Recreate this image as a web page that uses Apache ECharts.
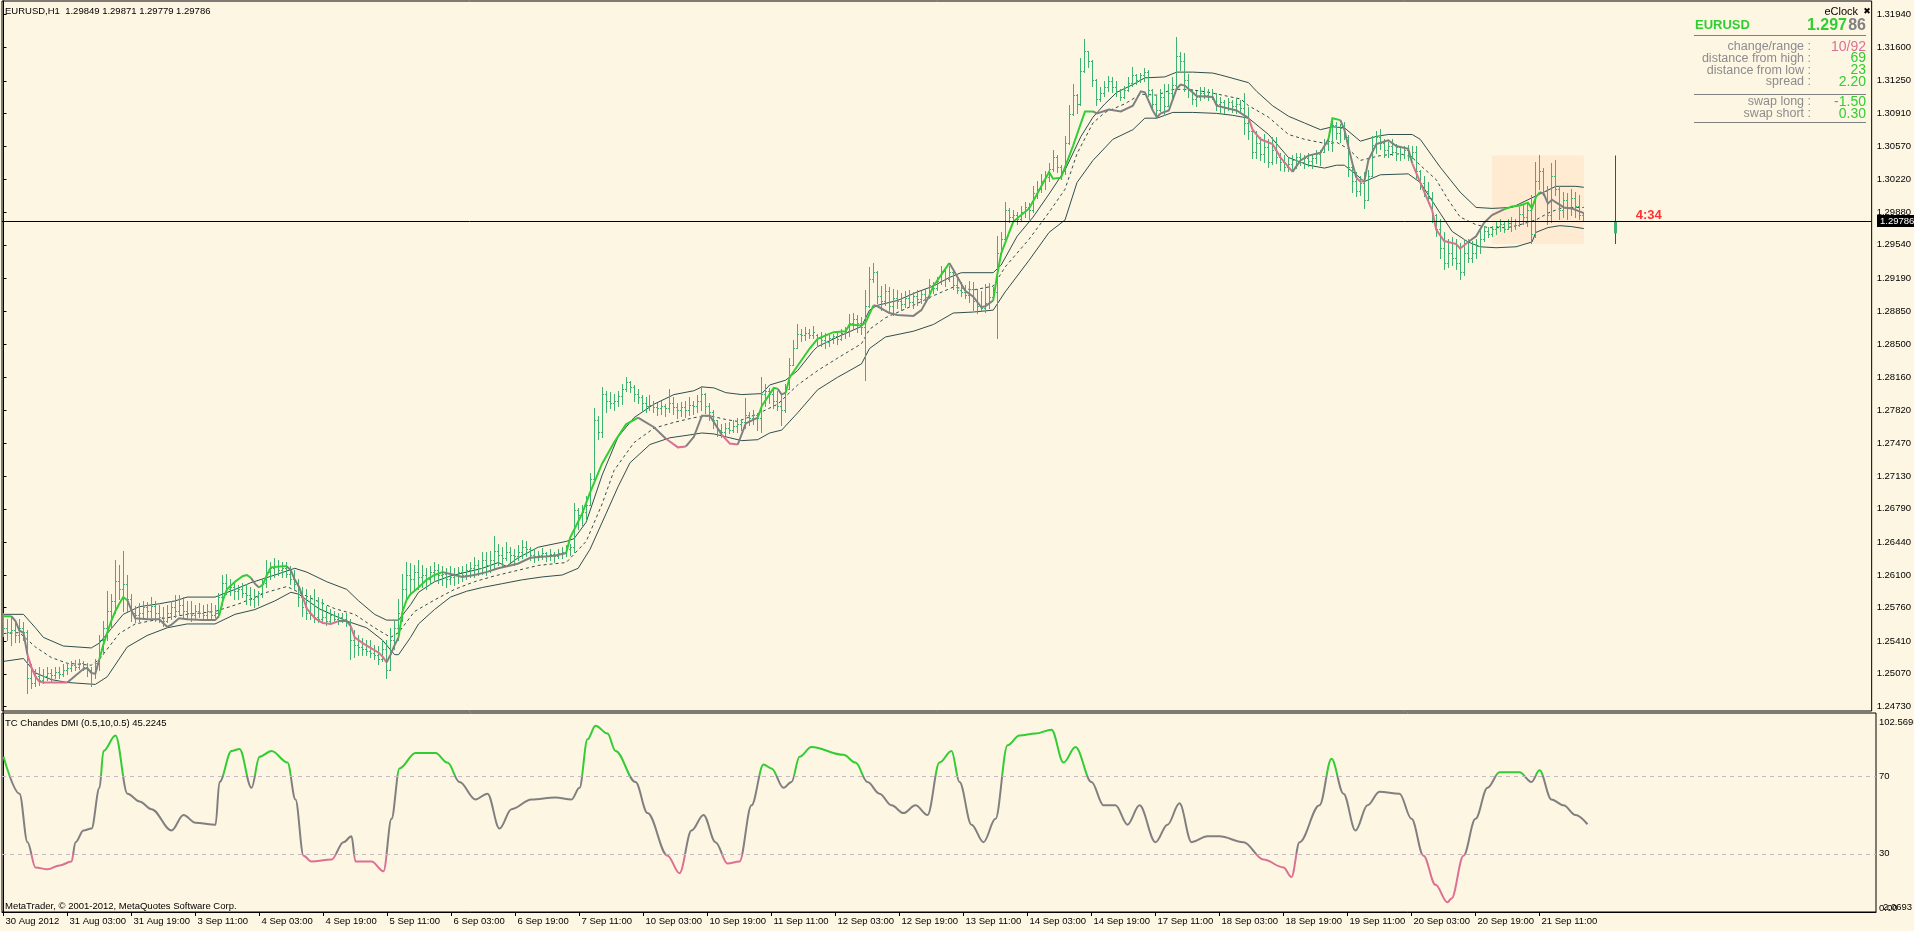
<!DOCTYPE html>
<html>
<head>
<meta charset="utf-8">
<title>EURUSD,H1</title>
<script src="https://cdn.jsdelivr.net/npm/echarts@6.0.0/dist/echarts.min.js"></script>
<style>
  html, body { margin: 0; padding: 0; background: #fdf6e3; }
  #chart { width: 1914px; height: 931px; }
</style>
</head>
<body>
<div id="chart"></div>
<script>
// EURUSD H1, 30 Aug 11:00 .. 21 Sep 23:00 2012 (bar index 0..396)

const tickBars = [0,16,32,48,64,80,96,112,128,144,160,176,192,208,224,240,256,272,288,304,320,336,352,368,384];
const tickLabels = ['30 Aug 2012','31 Aug 03:00','31 Aug 19:00','3 Sep 11:00','4 Sep 03:00','4 Sep 19:00',
  '5 Sep 11:00','6 Sep 03:00','6 Sep 19:00','7 Sep 11:00','10 Sep 03:00','10 Sep 19:00','11 Sep 11:00',
  '12 Sep 03:00','12 Sep 19:00','13 Sep 11:00','14 Sep 03:00','14 Sep 19:00','17 Sep 11:00','18 Sep 03:00',
  '18 Sep 19:00','19 Sep 11:00','20 Sep 03:00','20 Sep 19:00','21 Sep 11:00'];
const priceTicks = [1.24730,1.25070,1.25410,1.25760,1.26100,1.26440,1.26790,1.27130,1.27470,1.27820,1.28160,
  1.28500,1.28850,1.29190,1.29540,1.29880,1.30220,1.30570,1.30910,1.31250,1.31600,1.31940];

const opens = [
1.2562,1.2554,1.2550,1.2552,1.2547,1.2554,1.2550,1.2502,1.2497,1.2504,
1.2500,1.2504,1.2507,1.2505,1.2508,1.2506,1.2511,1.2513,1.2516,1.2514,
1.2518,1.2514,1.2510,1.2507,1.2518,1.2542,1.2554,1.2572,1.2582,1.2603,
1.2595,1.2600,1.2585,1.2570,1.2568,1.2570,1.2576,1.2572,1.2577,1.2570,
1.2566,1.2562,1.2570,1.2576,1.2572,1.2578,1.2572,1.2570,1.2568,1.2572,
1.2570,1.2568,1.2572,1.2568,1.2570,1.2587,1.2601,1.2595,1.2597,1.2593,
1.2595,1.2591,1.2589,1.2584,1.2587,1.2591,1.2601,1.2613,1.2617,1.2619,
1.2615,1.2617,1.2611,1.2605,1.2600,1.2587,1.2576,1.2570,1.2568,1.2566,
1.2564,1.2566,1.2562,1.2568,1.2564,1.2566,1.2564,1.2560,1.2542,1.2537,
1.2534,1.2532,1.2530,1.2528,1.2526,1.2522,1.2532,1.2510,1.2542,1.2554,
1.2570,1.2595,1.2610,1.2605,1.2613,1.2607,1.2610,1.2605,1.2613,1.2615,
1.2609,1.2611,1.2605,1.2607,1.2610,1.2613,1.2610,1.2615,1.2617,1.2620,
1.2617,1.2625,1.2620,1.2625,1.2635,1.2630,1.2627,1.2633,1.2630,1.2629,
1.2633,1.2639,1.2637,1.2630,1.2629,1.2630,1.2632,1.2629,1.2631,1.2629,
1.2632,1.2633,1.2637,1.2639,1.2677,1.2672,1.2675,1.2682,1.2709,1.2771,
1.2759,1.2798,1.2791,1.2789,1.2791,1.2796,1.2803,1.2811,1.2805,1.2798,
1.2795,1.2789,1.2786,1.2787,1.2785,1.2783,1.2786,1.2783,1.2789,1.2785,
1.2781,1.2785,1.2781,1.2787,1.2786,1.2791,1.2798,1.2786,1.2779,1.2771,
1.2761,1.2759,1.2763,1.2761,1.2765,1.2767,1.2769,1.2776,1.2773,1.2776,
1.2773,1.2798,1.2801,1.2798,1.2791,1.2786,1.2781,1.2803,1.2828,1.2846,
1.2861,1.2860,1.2862,1.2860,1.2860,1.2856,1.2854,1.2852,1.2856,1.2858,
1.2855,1.2862,1.2864,1.2872,1.2876,1.2872,1.2868,1.2890,1.2918,1.2925,
1.2900,1.2895,1.2905,1.2890,1.2898,1.2895,1.2892,1.2898,1.2894,1.2900,
1.2897,1.2902,1.2899,1.2912,1.2909,1.2916,1.2926,1.2918,1.2925,1.2912,
1.2906,1.2904,1.2901,1.2908,1.2895,1.2890,1.2888,1.2893,1.2899,1.2904,
1.2945,1.2960,1.2990,1.2982,1.2985,1.2980,1.2988,1.2993,1.2990,1.3008,
1.3012,1.3020,1.3024,1.3033,1.3045,1.3035,1.3030,1.3060,1.3090,1.3110,
1.3100,1.3135,1.3155,1.3145,1.3125,1.3105,1.3112,1.3118,1.3124,1.3118,
1.3114,1.3108,1.3115,1.3122,1.3130,1.3125,1.3130,1.3134,1.3115,1.3100,
1.3094,1.3108,1.3098,1.3112,1.3120,1.3150,1.3145,1.3125,1.3115,1.3105,
1.3108,1.3112,1.3110,1.3108,1.3112,1.3100,1.3102,1.3096,1.3102,1.3098,
1.3100,1.3096,1.3080,1.3072,1.3050,1.3060,1.3048,1.3055,1.3040,1.3052,
1.3045,1.3040,1.3035,1.3038,1.3042,1.3045,1.3040,1.3044,1.3041,1.3044,
1.3048,1.3050,1.3060,1.3062,1.3078,1.3070,1.3075,1.3066,1.3035,1.3020,
1.3010,1.3018,1.3000,1.3025,1.3058,1.3066,1.3060,1.3052,1.3056,1.3050,
1.3055,1.3048,1.3052,1.3046,1.3050,1.3030,1.3018,1.3010,1.3002,1.2985,
1.2970,1.2950,1.2935,1.2945,1.2940,1.2935,1.2925,1.2945,1.2940,1.2945,
1.2952,1.2960,1.2968,1.2965,1.2970,1.2973,1.2975,1.2970,1.2976,1.2978,
1.2974,1.2986,1.2982,1.2990,1.2965,1.3020,1.3030,1.3010,1.2985,1.3025,
1.3012,1.2990,1.3000,1.2992,1.3002,1.2994,1.29849
];
const highs = [
1.2570,1.2564,1.2567,1.2562,1.2564,1.2560,1.2552,1.2517,1.2512,1.2514,
1.2512,1.2514,1.2512,1.2514,1.2514,1.2517,1.2518,1.2520,1.2521,1.2522,
1.2520,1.2518,1.2514,1.2522,1.2547,1.2562,1.2593,1.2590,1.2625,1.2620,
1.2635,1.2610,1.2590,1.2577,1.2580,1.2582,1.2581,1.2587,1.2582,1.2578,
1.2576,1.2578,1.2582,1.2589,1.2589,1.2587,1.2582,1.2582,1.2578,1.2580,
1.2578,1.2579,1.2580,1.2578,1.2591,1.2609,1.2611,1.2605,1.2601,1.2599,
1.2601,1.2600,1.2597,1.2595,1.2593,1.2605,1.2625,1.2623,1.2627,1.2625,
1.2623,1.2623,1.2619,1.2615,1.2605,1.2597,1.2595,1.2589,1.2595,1.2587,
1.2584,1.2577,1.2574,1.2572,1.2570,1.2570,1.2570,1.2564,1.2552,1.2547,
1.2544,1.2542,1.2542,1.2537,1.2536,1.2542,1.2542,1.2554,1.2562,1.2584,
1.2611,1.2623,1.2622,1.2620,1.2625,1.2620,1.2617,1.2619,1.2623,1.2621,
1.2619,1.2617,1.2619,1.2617,1.2618,1.2619,1.2621,1.2623,1.2628,1.2625,
1.2633,1.2633,1.2635,1.2650,1.2642,1.2639,1.2644,1.2639,1.2637,1.2641,
1.2646,1.2645,1.2639,1.2637,1.2634,1.2638,1.2633,1.2637,1.2633,1.2637,
1.2639,1.2641,1.2642,1.2684,1.2679,1.2682,1.2692,1.2716,1.2784,1.2775,
1.2805,1.2801,1.2800,1.2798,1.2801,1.2808,1.2816,1.2812,1.2807,1.2803,
1.2797,1.2795,1.2797,1.2791,1.2789,1.2791,1.2788,1.2803,1.2795,1.2789,
1.2790,1.2791,1.2795,1.2791,1.2797,1.2806,1.2799,1.2789,1.2781,1.2771,
1.2767,1.2768,1.2769,1.2771,1.2773,1.2772,1.2794,1.2779,1.2781,1.2778,
1.2816,1.2808,1.2804,1.2803,1.2801,1.2798,1.2809,1.2836,1.2854,1.2871,
1.2866,1.2868,1.2866,1.2869,1.2861,1.2863,1.2862,1.2860,1.2861,1.2862,
1.2866,1.2868,1.2881,1.2882,1.2880,1.2878,1.2906,1.2930,1.2935,1.2926,
1.2911,1.2913,1.2910,1.2908,1.2906,1.2903,1.2905,1.2906,1.2904,1.2906,
1.2905,1.2907,1.2918,1.2915,1.2920,1.2931,1.2928,1.2931,1.2926,1.2918,
1.2915,1.2912,1.2916,1.2915,1.2908,1.2905,1.2913,1.2914,1.2910,1.2963,
1.2967,1.2998,1.2992,1.2990,1.2988,1.2994,1.2998,1.2997,1.3015,1.3020,
1.3027,1.3030,1.3039,1.3052,1.3047,1.3037,1.3067,1.3099,1.3121,1.3111,
1.3148,1.3168,1.3156,1.3146,1.3126,1.3118,1.3124,1.3129,1.3128,1.3124,
1.3116,1.3119,1.3128,1.3139,1.3132,1.3133,1.3138,1.3136,1.3116,1.3109,
1.3116,1.3121,1.3121,1.3128,1.3170,1.3154,1.3153,1.3131,1.3116,1.3114,
1.3118,1.3118,1.3116,1.3116,1.3112,1.3108,1.3104,1.3107,1.3104,1.3106,
1.3104,1.3112,1.3097,1.3074,1.3072,1.3066,1.3069,1.3064,1.3066,1.3066,
1.3049,1.3047,1.3044,1.3047,1.3049,1.3049,1.3047,1.3049,1.3047,1.3052,
1.3052,1.3064,1.3066,1.3084,1.3081,1.3079,1.3082,1.3068,1.3039,1.3029,
1.3025,1.3029,1.3032,1.3067,1.3072,1.3074,1.3064,1.3061,1.3064,1.3059,
1.3057,1.3056,1.3058,1.3057,1.3057,1.3032,1.3025,1.3019,1.3009,1.2986,
1.2980,1.2967,1.2960,1.2962,1.2960,1.2955,1.2960,1.2960,1.2957,1.2960,
1.2970,1.2973,1.2972,1.2973,1.2978,1.2980,1.2978,1.2980,1.2982,1.2980,
1.2993,1.2995,1.2997,1.3005,1.3040,1.3047,1.3034,1.3015,1.3039,1.3042,
1.3015,1.3009,1.3007,1.3012,1.3009,1.3005,1.29871
];
const lows = [
1.2546,1.2542,1.2537,1.2540,1.2540,1.2542,1.2487,1.2492,1.2494,1.2495,
1.2497,1.2500,1.2499,1.2502,1.2502,1.2504,1.2506,1.2509,1.2510,1.2512,
1.2510,1.2504,1.2494,1.2502,1.2510,1.2527,1.2542,1.2554,1.2570,1.2585,
1.2572,1.2572,1.2562,1.2560,1.2562,1.2565,1.2564,1.2566,1.2562,1.2560,
1.2556,1.2560,1.2564,1.2566,1.2568,1.2566,1.2564,1.2562,1.2564,1.2566,
1.2564,1.2565,1.2564,1.2566,1.2566,1.2578,1.2590,1.2589,1.2584,1.2584,
1.2587,1.2579,1.2578,1.2576,1.2578,1.2587,1.2597,1.2605,1.2607,1.2610,
1.2607,1.2607,1.2600,1.2595,1.2577,1.2567,1.2564,1.2564,1.2560,1.2560,
1.2560,1.2557,1.2560,1.2560,1.2558,1.2560,1.2556,1.2522,1.2524,1.2526,
1.2526,1.2526,1.2524,1.2522,1.2517,1.2520,1.2502,1.2510,1.2532,1.2542,
1.2562,1.2584,1.2590,1.2593,1.2595,1.2597,1.2595,1.2600,1.2603,1.2601,
1.2599,1.2597,1.2600,1.2599,1.2601,1.2603,1.2605,1.2607,1.2607,1.2609,
1.2611,1.2610,1.2613,1.2617,1.2620,1.2619,1.2625,1.2623,1.2620,1.2625,
1.2627,1.2629,1.2625,1.2623,1.2625,1.2626,1.2624,1.2625,1.2623,1.2627,
1.2627,1.2629,1.2630,1.2633,1.2657,1.2662,1.2667,1.2682,1.2709,1.2751,
1.2753,1.2779,1.2783,1.2781,1.2786,1.2788,1.2801,1.2800,1.2791,1.2789,
1.2781,1.2779,1.2781,1.2779,1.2776,1.2777,1.2775,1.2779,1.2777,1.2773,
1.2775,1.2774,1.2776,1.2777,1.2779,1.2781,1.2778,1.2771,1.2763,1.2754,
1.2753,1.2755,1.2757,1.2758,1.2759,1.2761,1.2763,1.2766,1.2767,1.2761,
1.2758,1.2786,1.2789,1.2783,1.2781,1.2766,1.2779,1.2803,1.2828,1.2846,
1.2853,1.2854,1.2856,1.2856,1.2848,1.2848,1.2846,1.2848,1.2851,1.2850,
1.2854,1.2856,1.2859,1.2866,1.2863,1.2861,1.2813,1.2889,1.2915,1.2893,
1.2886,1.2891,1.2883,1.2880,1.2888,1.2886,1.2889,1.2890,1.2888,1.2891,
1.2893,1.2893,1.2898,1.2903,1.2906,1.2913,1.2911,1.2916,1.2908,1.2903,
1.2900,1.2898,1.2894,1.2886,1.2883,1.2886,1.2884,1.2888,1.2898,1.2856,
1.2945,1.2960,1.2977,1.2978,1.2975,1.2978,1.2982,1.2980,1.2988,1.3002,
1.3009,1.3012,1.3020,1.3030,1.3029,1.3022,1.3027,1.3059,1.3089,1.3091,
1.3099,1.3134,1.3139,1.3119,1.3099,1.3103,1.3109,1.3114,1.3113,1.3109,
1.3104,1.3106,1.3114,1.3119,1.3121,1.3123,1.3124,1.3109,1.3094,1.3089,
1.3093,1.3089,1.3098,1.3103,1.3116,1.3136,1.3114,1.3108,1.3100,1.3098,
1.3104,1.3106,1.3104,1.3105,1.3094,1.3092,1.3091,1.3094,1.3092,1.3091,
1.3091,1.3069,1.3064,1.3044,1.3044,1.3042,1.3040,1.3035,1.3038,1.3039,
1.3032,1.3030,1.3030,1.3032,1.3034,1.3037,1.3034,1.3036,1.3034,1.3039,
1.3037,1.3050,1.3052,1.3051,1.3064,1.3061,1.3064,1.3025,1.3009,1.3004,
1.3005,1.2992,1.3000,1.3025,1.3049,1.3053,1.3045,1.3045,1.3047,1.3042,
1.3042,1.3044,1.3042,1.3044,1.3022,1.3012,1.3004,1.2997,1.2977,1.2963,
1.2940,1.2928,1.2930,1.2933,1.2928,1.2918,1.2922,1.2936,1.2936,1.2940,
1.2945,1.2958,1.2962,1.2963,1.2965,1.2968,1.2967,1.2970,1.2968,1.2970,
1.2973,1.2975,1.2973,1.2955,1.2962,1.3012,1.3005,1.2975,1.2977,1.3005,
1.2980,1.2982,1.2980,1.2985,1.2982,1.2980,1.29779
];
const closes = [
1.2554,1.2550,1.2552,1.2547,1.2554,1.2550,1.2502,1.2497,1.2504,1.2500,
1.2504,1.2507,1.2505,1.2508,1.2506,1.2511,1.2513,1.2516,1.2514,1.2518,
1.2514,1.2510,1.2507,1.2518,1.2542,1.2554,1.2572,1.2582,1.2603,1.2595,
1.2600,1.2585,1.2570,1.2568,1.2570,1.2576,1.2572,1.2577,1.2570,1.2566,
1.2562,1.2570,1.2576,1.2572,1.2578,1.2572,1.2570,1.2568,1.2572,1.2570,
1.2568,1.2572,1.2568,1.2570,1.2587,1.2601,1.2595,1.2597,1.2593,1.2595,
1.2591,1.2589,1.2584,1.2587,1.2591,1.2601,1.2613,1.2617,1.2619,1.2615,
1.2617,1.2611,1.2605,1.2600,1.2587,1.2576,1.2570,1.2568,1.2566,1.2564,
1.2566,1.2562,1.2568,1.2564,1.2566,1.2564,1.2560,1.2542,1.2537,1.2534,
1.2532,1.2530,1.2528,1.2526,1.2522,1.2532,1.2510,1.2542,1.2554,1.2570,
1.2595,1.2610,1.2605,1.2613,1.2607,1.2610,1.2605,1.2613,1.2615,1.2609,
1.2611,1.2605,1.2607,1.2610,1.2613,1.2610,1.2615,1.2617,1.2620,1.2617,
1.2625,1.2620,1.2625,1.2635,1.2630,1.2627,1.2633,1.2630,1.2629,1.2633,
1.2639,1.2637,1.2630,1.2629,1.2630,1.2632,1.2629,1.2631,1.2629,1.2632,
1.2633,1.2637,1.2639,1.2677,1.2672,1.2675,1.2682,1.2709,1.2771,1.2759,
1.2798,1.2791,1.2789,1.2791,1.2796,1.2803,1.2811,1.2805,1.2798,1.2795,
1.2789,1.2786,1.2787,1.2785,1.2783,1.2786,1.2783,1.2789,1.2785,1.2781,
1.2785,1.2781,1.2787,1.2786,1.2791,1.2798,1.2786,1.2779,1.2771,1.2761,
1.2759,1.2763,1.2761,1.2765,1.2767,1.2769,1.2776,1.2773,1.2776,1.2773,
1.2798,1.2801,1.2798,1.2791,1.2786,1.2781,1.2803,1.2828,1.2846,1.2861,
1.2860,1.2862,1.2860,1.2863,1.2856,1.2854,1.2852,1.2856,1.2858,1.2855,
1.2862,1.2864,1.2872,1.2876,1.2872,1.2868,1.2890,1.2918,1.2925,1.2900,
1.2895,1.2905,1.2890,1.2898,1.2895,1.2892,1.2898,1.2894,1.2900,1.2897,
1.2902,1.2899,1.2912,1.2909,1.2916,1.2926,1.2918,1.2925,1.2912,1.2906,
1.2904,1.2901,1.2908,1.2895,1.2890,1.2888,1.2893,1.2899,1.2904,1.2945,
1.2960,1.2990,1.2982,1.2985,1.2980,1.2988,1.2993,1.2990,1.3008,1.3012,
1.3020,1.3024,1.3033,1.3045,1.3035,1.3030,1.3060,1.3090,1.3110,1.3100,
1.3135,1.3155,1.3145,1.3125,1.3105,1.3112,1.3118,1.3124,1.3118,1.3114,
1.3108,1.3115,1.3122,1.3130,1.3125,1.3130,1.3134,1.3115,1.3100,1.3094,
1.3108,1.3098,1.3112,1.3120,1.3150,1.3145,1.3125,1.3115,1.3105,1.3108,
1.3112,1.3110,1.3108,1.3112,1.3100,1.3102,1.3096,1.3102,1.3098,1.3100,
1.3096,1.3080,1.3072,1.3050,1.3060,1.3048,1.3055,1.3040,1.3052,1.3045,
1.3040,1.3035,1.3038,1.3042,1.3045,1.3040,1.3044,1.3041,1.3044,1.3048,
1.3050,1.3060,1.3062,1.3078,1.3070,1.3075,1.3066,1.3035,1.3020,1.3010,
1.3018,1.3000,1.3025,1.3058,1.3066,1.3060,1.3052,1.3056,1.3050,1.3055,
1.3048,1.3052,1.3046,1.3050,1.3030,1.3018,1.3010,1.3002,1.2985,1.2970,
1.2950,1.2935,1.2945,1.2940,1.2935,1.2925,1.2945,1.2940,1.2945,1.2952,
1.2960,1.2968,1.2965,1.2970,1.2973,1.2975,1.2970,1.2976,1.2978,1.2974,
1.2986,1.2982,1.2990,1.2965,1.3020,1.3030,1.3010,1.2985,1.3025,1.3012,
1.2990,1.3000,1.2992,1.3002,1.2994,1.2985,1.29786
];

// colored trend line (g = up / green, n = neutral / gray, r = down / pink)
const trendBars = [
0,2,3,4,5,6,7,8,9,10, 13,16,18,20,21,22,23,24,25,26, 27,28,29,30,31,32,33,36,39,40,
41,42,44,46,50,53,54,55,56,58, 60,61,62,63,64,65,66,67,70,71, 72,73,74,75,76,77,78,80,82,84,
85,86,87,88,90,92,94,95,96,97, 98,99,100,101,102,104,106,108,110,112, 115,118,121,124,127,129,132,135,138,141,
142,145,147,150,153,156,159,163,166,169, 171,173,175,177,180,182,184,186,189,190, 193,194,195,196,197,199,202,204,208,211,
212,215,216,218,219,222,224,228,230,232, 233,237,238,241,243,245,246,248,249,250, 253,257,259,262,263,265,268,271,273,274,
277,280,283,285,286,288,289,290,292,294, 295,296,299,303,304,309,312,313,315,318, 320,323,325,327,330,332,333,335,336,338,
339,340,341,342,344,347,349,352,353,355, 358,359,361,364,365,367,369,371,373,376, 378,380,382,383,384,385,386,387,388,391,
393,396];
const trendPrices = [
1.2567,1.2567,1.2562,1.2552,1.2550,1.2527,1.2514,1.2504,1.2499,1.2498,
1.2498,1.2498,1.2505,1.2512,1.2513,1.2508,1.2507,1.2522,1.2537,1.2550,
1.2562,1.2572,1.2580,1.2587,1.2584,1.2574,1.2565,1.2564,1.2564,1.2560,
1.2556,1.2558,1.2565,1.2564,1.2563,1.2563,1.2567,1.2584,1.2595,1.2603,
1.2609,1.2610,1.2607,1.2601,1.2597,1.2600,1.2610,1.2618,1.2619,1.2619,
1.2615,1.2605,1.2598,1.2587,1.2575,1.2570,1.2565,1.2560,1.2559,1.2562,
1.2562,1.2562,1.2557,1.2545,1.2539,1.2534,1.2529,1.2525,1.2519,1.2527,
1.2537,1.2545,1.2572,1.2584,1.2590,1.2597,1.2605,1.2610,1.2613,1.2611,
1.2608,1.2610,1.2613,1.2617,1.2620,1.2622,1.2628,1.2629,1.2630,1.2633,
1.2649,1.2674,1.2696,1.2726,1.2748,1.2767,1.2774,1.2764,1.2752,1.2743,
1.2744,1.2754,1.2776,1.2776,1.2756,1.2747,1.2746,1.2768,1.2774,1.2786,
1.2805,1.2804,1.2798,1.2800,1.2816,1.2828,1.2846,1.2856,1.2863,1.2864,
1.2871,1.2870,1.2873,1.2891,1.2890,1.2883,1.2881,1.2880,1.2886,1.2901,
1.2911,1.2935,1.2928,1.2906,1.2900,1.2889,1.2890,1.2896,1.2923,1.2945,
1.2978,1.2992,1.3007,1.3030,1.3023,1.3024,1.3057,1.3093,1.3093,1.3091,
1.3095,1.3093,1.3099,1.3114,1.3113,1.3094,1.3087,1.3091,1.3094,1.3117,
1.3121,1.3120,1.3109,1.3108,1.3099,1.3094,1.3086,1.3074,1.3064,1.3059,
1.3045,1.3030,1.3042,1.3047,1.3050,1.3064,1.3086,1.3084,1.3074,1.3039,
1.3024,1.3020,1.3020,1.3042,1.3059,1.3063,1.3057,1.3054,1.3039,1.3019,
1.2990,1.2970,1.2958,1.2955,1.2950,1.2957,1.2963,1.2977,1.2985,1.2991,
1.2994,1.2995,1.2998,1.2992,1.3004,1.3009,1.3007,1.2997,1.3001,1.2993,
1.2992,1.2987];
const trendStates = [
'g','g','n','n','n','n','r','r','r','r', 'r','r','n','n','n','n','n','n','g','g',
'g','g','g','g','g','n','n','n','n','n', 'n','n','n','n','n','n','n','g','g','g',
'g','g','g','n','n','g','g','g','g','g', 'n','n','n','n','r','r','r','r','r','r',
'n','n','n','r','r','r','r','r','r','n', 'n','n','g','g','g','g','g','g','g','n',
'n','n','n','n','n','n','n','n','n','n', 'g','g','g','g','g','g','g','n','n','r',
'r','n','n','n','n','r','r','n','n','g', 'g','g','n','n','g','g','g','g','g','g',
'g','g','g','g','n','n','n','n','n','n', 'g','g','n','n','n','n','n','n','g','g',
'g','g','g','g','g','g','g','g','g','n', 'n','n','n','n','n','n','n','n','n','n',
'n','n','n','n','n','n','n','r','r','r', 'r','r','n','n','n','n','g','g','n','n',
'n','r','r','n','n','n','n','n','n','r', 'r','r','r','r','r','r','n','n','n','n',
'g','g','g','g','g','g','n','n','n','n', 'n','n'];

// envelope bands around the trend line
const upperBars = [0,5,8,10,15,22,24,30,34,39,43,46,53,58,62,68,73,76,81,86,89,93,96,99,102,104,108,112,116,120,
  124,126,129,134,141,143,146,150,154,158,163,168,173,175,178,181,185,190,192,196,199,203,204,209,215,217,219,224,229,233,
  237,240,248,250,254,258,262,266,270,273,276,279,283,286,291,294,298,303,305,312,314,318,322,326,330,333,336,340,344,347,
  353,355,360,365,369,373,378,384,389,394,396];
const upperPrices = [1.2569,1.2569,1.2555,1.2545,1.2536,1.2534,1.2539,1.2569,1.2577,1.2580,1.2583,1.2587,1.2587,1.2595,1.2602,
  1.2610,1.2617,1.2613,1.2603,1.2595,1.2583,1.2569,1.2563,1.2563,1.2579,1.2592,1.2603,1.2609,1.2613,1.2617,
  1.2623,1.2619,1.2628,1.2639,1.2645,1.2648,1.2665,1.2714,1.2754,1.2774,1.2788,1.2798,1.2802,1.2806,1.2805,
  1.2800,1.2798,1.2799,1.2808,1.2813,1.2823,1.2844,1.2848,1.2858,1.2869,1.2886,1.2891,1.2896,1.2905,1.2911,
  1.2920,1.2925,1.2925,1.2933,1.2963,1.2983,1.3007,1.3032,1.3067,1.3087,1.3101,1.3113,1.3121,1.3128,1.3129,
  1.3134,1.3134,1.3133,1.3131,1.3123,1.3114,1.3099,1.3088,1.3081,1.3074,1.3077,1.3076,1.3062,1.3067,1.3069,
  1.3069,1.3064,1.3035,1.3009,1.2993,1.2992,1.2993,1.3005,1.3015,1.3015,1.3014];
const midBars = [0,4,8,12,16,22,24,29,33,39,46,53,59,66,71,74,78,83,88,93,97,99,103,108,113,118,123,129,134,141,
  146,150,153,158,163,168,173,177,181,184,189,194,199,204,209,215,217,221,228,233,238,243,248,251,257,262,266,269,273,276,
  281,285,289,293,297,302,310,312,317,322,326,332,334,337,340,345,350,353,355,359,362,365,369,372,377,380,384,387,390,393,396];
const midPrices = [1.2549,1.2550,1.2535,1.2524,1.2518,1.2516,1.2522,1.2549,1.2559,1.2564,1.2569,1.2572,1.2580,1.2592,1.2598,
  1.2592,1.2584,1.2575,1.2569,1.2555,1.2545,1.2550,1.2572,1.2584,1.2595,1.2603,1.2609,1.2615,1.2620,1.2623,
  1.2645,1.2684,1.2719,1.2748,1.2763,1.2769,1.2774,1.2776,1.2772,1.2770,1.2778,1.2788,1.2808,1.2823,1.2836,
  1.2851,1.2866,1.2878,1.2891,1.2901,1.2910,1.2907,1.2911,1.2931,1.2960,1.2988,1.3012,1.3049,1.3081,1.3092,
  1.3101,1.3111,1.3110,1.3116,1.3116,1.3113,1.3106,1.3099,1.3087,1.3069,1.3064,1.3059,1.3061,1.3054,1.3042,
  1.3047,1.3049,1.3045,1.3037,1.3022,1.3001,1.2983,1.2975,1.2972,1.2972,1.2975,1.2980,1.2987,1.2992,1.2993,1.2993];
const lowerBars = [0,5,8,12,16,23,26,31,36,41,46,53,58,63,68,72,74,79,86,91,95,98,99,102,104,108,112,116,120,125,
  130,135,140,144,147,151,154,157,162,167,172,175,178,182,185,189,192,195,199,204,209,215,217,221,228,233,238,243,248,251,
  257,262,266,269,273,278,283,286,289,293,298,304,308,312,317,322,327,331,334,336,339,341,345,352,355,360,363,367,370,374,
  379,383,384,387,390,393,396];
const lowerPrices = [1.2520,1.2523,1.2508,1.2501,1.2498,1.2496,1.2504,1.2535,1.2547,1.2555,1.2559,1.2559,1.2569,1.2574,1.2583,
  1.2592,1.2590,1.2575,1.2562,1.2555,1.2542,1.2527,1.2527,1.2545,1.2559,1.2574,1.2587,1.2593,1.2597,1.2601,
  1.2605,1.2608,1.2610,1.2617,1.2637,1.2674,1.2702,1.2727,1.2746,1.2753,1.2756,1.2758,1.2757,1.2753,1.2750,
  1.2751,1.2758,1.2761,1.2779,1.2803,1.2816,1.2830,1.2846,1.2858,1.2864,1.2871,1.2883,1.2884,1.2886,1.2905,
  1.2938,1.2967,1.2980,1.3019,1.3042,1.3064,1.3074,1.3086,1.3086,1.3092,1.3092,1.3091,1.3089,1.3086,1.3069,
  1.3045,1.3037,1.3034,1.3037,1.3037,1.3027,1.3020,1.3027,1.3028,1.3019,1.2987,1.2968,1.2957,1.2952,1.2951,
  1.2952,1.2957,1.2967,1.2972,1.2974,1.2973,1.2971];

// TC Chandes DMI (lower panel)
const dmiBars = [0,4,6,8,11,14,17,18,20,22, 24,25,28,31,34,37,42,45,48,53, 54,57,59,62,64,67,71,73,75,77,
  82,85,87,88,92,95,97,99,103,108, 111,114,118,121,124,127,132,138,142,144, 146,148,151,153,158,161,166,169,172,175,
  178,181,184,187,190,192,195,197,199,202, 210,213,216,219,222,225,228,231,234,237, 239,242,245,248,251,254,258,262,265,268,
  272,275,278,281,284,288,291,294,297,301, 304,310,315,320,322,324,329,332,335,338, 341,344,349,352,355,358,361,362,365,368,
  371,374,379,382,384,387,390,393,396];
const dmiValues = [80,61,36,23,22,24,26,36,42,43, 64,83,91,61,57,53,42,50,46,45, 67,83,84,64,80,83,77,58,29,26,
  27,36,39,26,26,21,48,74,82,82, 77,67,58,61,43,53,58,59,58,64, 89,96,92,83,67,51,29,20,42,50,
  36,25,26,55,76,74,64,67,80,85, 81,77,67,61,55,51,55,50,77,83, 67,45,36,48,86,91,92,94,77,85,
  67,55,55,45,55,36,45,56,36,39, 39,36,27,23,18,36,55,79,61,42, 55,62,61,48,29,14,5,7,29,48,
  64,72,72,67,73,58,55,50,45.2245];
const dmiLevels = [70, 30];
const dmiMax = 102.5695, dmiMin = 2.0693;

// today's range box, daily candle and bar timer
const dayStart = 373, dayEnd = 396, dayCandleBar = 404;
const dayOpen = 1.2966, dayHigh = 1.3047, dayLow = 1.2955, dayClose = 1.29786;
const timerBar = 412.25, timerPrice = 1.2985, timerText = '4:34';
const lastClose = closes[closes.length - 1];

const FONT = '"Liberation Sans", Arial, sans-serif';
const barColor = '#3cb371';
const bandColor = '#2f4f4f';
const green = '#32cd32', gray = '#808080', pink = '#db7093';
const trendColors = {g: green, n: gray, r: pink};

const barMin = -0.375, barMax = 468.125;     // 4 px per bar
const priceMin = 1.24683, priceMax = 1.32081;

const ohlcData = opens.map(function (o, i) { return [i, o, highs[i], lows[i], closes[i]]; });
function pairs(xs, ys) { return xs.map(function (x, k) { return [x, ys[k]]; }); }

// split the trend line into colored runs
const trendRuns = [];
let run = null;
for (let k = 0; k < trendBars.length; k++) {
  const pt = [trendBars[k], trendPrices[k]];
  const s = trendStates[k];
  if (!run || run.state !== s) {
    const prev = run ? run.coords[run.coords.length - 1] : null;
    run = {state: s, coords: prev ? [prev, pt] : [pt]};
    trendRuns.push(run);
  } else {
    run.coords.push(pt);
  }
}

function renderBar(params, api) {
  const i = api.value(0);
  const pO = api.coord([i, api.value(1)]);
  const pH = api.coord([i, api.value(2)]);
  const pL = api.coord([i, api.value(3)]);
  const pC = api.coord([i, api.value(4)]);
  const x = Math.floor(pH[0]);
  const yH = Math.floor(pH[1]);
  const yL = Math.max(Math.floor(pL[1]), yH + 1);
  return {type: 'group', children: [
    {type: 'rect', shape: {x: x, y: yH, width: 1, height: yL - yH + 1}, style: {fill: barColor}},
    {type: 'rect', shape: {x: x - 1, y: Math.floor(pO[1]), width: 1, height: 1}, style: {fill: barColor}},
    {type: 'rect', shape: {x: x + 1, y: Math.floor(pC[1]), width: 1, height: 1}, style: {fill: barColor}}
  ]};
}

function renderDayCandle(params, api) {
  const i = api.value(0);
  const pO = api.coord([i, api.value(1)]);
  const pH = api.coord([i, api.value(2)]);
  const pL = api.coord([i, api.value(3)]);
  const pC = api.coord([i, api.value(4)]);
  const x = Math.floor(pH[0]);
  const top = Math.min(pO[1], pC[1]), bot = Math.max(pO[1], pC[1]);
  return {type: 'group', children: [
    {type: 'rect', shape: {x: x, y: pH[1], width: 1, height: pL[1] - pH[1]}, style: {fill: '#008000'}},
    {type: 'rect', shape: {x: x - 1, y: top, width: 3, height: Math.max(bot - top, 1)}, style: {fill: barColor}}
  ]};
}

function renderBox(params, api) {
  const a = api.coord([api.value(0), api.value(2)]);
  const b = api.coord([api.value(1), api.value(3)]);
  return {type: 'rect', shape: {x: a[0], y: a[1], width: b[0] - a[0], height: b[1] - a[1]}, style: {fill: '#feebd2'}};
}

const chart = echarts.init(document.getElementById('chart'));

chart.setOption({
  animation: false,
  backgroundColor: '#fdf6e3',
  grid: [
    {left: 2, top: 1, width: 1874, height: 710, show: true, borderColor: '#000', borderWidth: 1},
    {left: 2, top: 713, width: 1874, height: 199, show: true, borderColor: '#000', borderWidth: 1}
  ],
  xAxis: [
    {gridIndex: 0, type: 'value', min: barMin, max: barMax, show: false},
    {gridIndex: 1, type: 'value', min: barMin, max: barMax,
      axisLine: {show: true, lineStyle: {color: '#000'}},
      axisTick: {show: true, customValues: tickBars, length: 4, lineStyle: {color: '#000'}},
      axisLabel: {show: true, customValues: tickBars, align: 'left', margin: 4, color: '#000',
        fontSize: 9.5, fontFamily: FONT, padding: [0, 0, 0, 2],
        formatter: function (v) { return tickLabels[tickBars.indexOf(Math.round(v))]; }},
      splitLine: {show: false}}
  ],
  yAxis: [
    {gridIndex: 0, type: 'value', position: 'right', min: priceMin, max: priceMax,
      axisLine: {show: true, lineStyle: {color: '#000'}},
      axisTick: {show: true, customValues: priceTicks, length: 3, lineStyle: {color: '#000'}},
      axisLabel: {customValues: priceTicks, margin: 5, color: '#000', fontSize: 9.5, fontFamily: FONT,
        formatter: function (v) { return v.toFixed(5); }},
      splitLine: {show: false}},
    {gridIndex: 1, type: 'value', position: 'right', min: 0, max: dmiMax,
      axisLine: {show: true, lineStyle: {color: '#000'}},
      axisTick: {show: true, customValues: dmiLevels, length: 2, lineStyle: {color: '#000'}},
      axisLabel: {customValues: dmiLevels, margin: 3, color: '#000', fontSize: 9.5, fontFamily: FONT,
        formatter: function (v) { return String(v); }},
      splitLine: {show: false}}
  ],
  visualMap: [{
    type: 'piecewise', show: false, seriesIndex: 7, dimension: 1,
    pieces: [{gt: 70, color: green}, {gte: 30, lte: 70, color: gray}, {lt: 30, color: pink}]
  }],
  series: [
    {type: 'custom', name: 'day box', xAxisIndex: 0, yAxisIndex: 0, z: 0, silent: true,
      renderItem: renderBox, data: [[dayStart, dayEnd, dayHigh, dayLow]]},
    {type: 'line', name: 'upper', xAxisIndex: 0, yAxisIndex: 0, z: 2, symbol: 'none', silent: true,
      lineStyle: {color: bandColor, width: 1}, data: pairs(upperBars, upperPrices)},
    {type: 'line', name: 'middle', xAxisIndex: 0, yAxisIndex: 0, z: 2, symbol: 'none', silent: true,
      lineStyle: {color: bandColor, width: 1, type: [3, 3]}, data: pairs(midBars, midPrices)},
    {type: 'line', name: 'lower', xAxisIndex: 0, yAxisIndex: 0, z: 2, symbol: 'none', silent: true,
      lineStyle: {color: bandColor, width: 1}, data: pairs(lowerBars, lowerPrices),
      markLine: {silent: true, precision: 6, symbol: ['none', 'none'], label: {show: false},
        lineStyle: {color: '#000', width: 1, type: 'solid'}, data: [{yAxis: lastClose}]}},
    {type: 'custom', name: 'EURUSD', xAxisIndex: 0, yAxisIndex: 0, z: 3, silent: true,
      renderItem: renderBar, encode: {x: 0, y: [1, 2, 3, 4]}, data: ohlcData},
    {type: 'lines', name: 'trend', coordinateSystem: 'cartesian2d', xAxisIndex: 0, yAxisIndex: 0,
      polyline: true, silent: true, z: 4, lineStyle: {width: 2, opacity: 1},
      data: trendRuns.map(function (r) {
        return {coords: r.coords, lineStyle: {color: trendColors[r.state], width: 2, opacity: 1}};
      })},
    {type: 'custom', name: 'day candle', xAxisIndex: 0, yAxisIndex: 0, z: 3, silent: true,
      renderItem: renderDayCandle, data: [[dayCandleBar, dayOpen, dayHigh, dayLow, dayClose]]},
    {type: 'line', name: 'DMI', xAxisIndex: 1, yAxisIndex: 1, z: 3, symbol: 'none', silent: true,
      smooth: 0.35, smoothMonotone: 'x',
      lineStyle: {width: 2}, data: pairs(dmiBars, dmiValues),
      markLine: {silent: true, symbol: ['none', 'none'], label: {show: false},
        lineStyle: {color: '#c4b8c4', width: 1, type: [4, 4]},
        data: dmiLevels.map(function (v) { return {yAxis: v}; })}},
    {type: 'scatter', name: 'timer', xAxisIndex: 0, yAxisIndex: 0, z: 5, silent: true,
      symbolSize: 1, itemStyle: {color: 'transparent'}, data: [[timerBar, timerPrice]],
      label: {show: true, position: 'inside', formatter: timerText, color: '#ff0000',
        fontWeight: 'bold', fontSize: 13, fontFamily: FONT}}
  ]
});

// texts and the info panel
function label(x, y, text, fill, font, align) {
  return {type: 'text', silent: true, z: 100,
    style: {x: x, y: y, text: text, fill: fill, font: font, textAlign: align || 'left', textVerticalAlign: 'middle'}};
}
function rule(x1, x2, y) {
  return {type: 'line', silent: true, z: 100, shape: {x1: x1, y1: y + 0.5, x2: x2, y2: y + 0.5},
    style: {stroke: '#808080', lineWidth: 1}};
}
const small = '9.5px ' + FONT;
const rowFont = '12.5px ' + FONT, valFont = '14px ' + FONT;
const infoRows = [
  ['change/range :', '10/92', pink, 47],
  ['distance from high :', '69', green, 58.5],
  ['distance from low :', '23', green, 70.5],
  ['spread :', '2.20', green, 82],
  ['swap long :', '-1.50', green, 102],
  ['swap short :', '0.30', green, 114]
];
const py = chart.convertToPixel({yAxisIndex: 0}, lastClose);
const g = [
  label(5, 11, 'EURUSD,H1  ' + [opens[396], highs[396], lows[396], closes[396]].map(function (v) { return v.toFixed(5); }).join(' '), '#000', small),
  label(5, 723, 'TC Chandes DMI (0.5,10,0.5) ' + dmiValues[dmiValues.length - 1].toFixed(4), '#000', small),
  label(5, 906, 'MetaTrader, \u00a9 2001-2012, MetaQuotes Software Corp.', '#000', small),
  label(1879, 722, dmiMax.toFixed(4), '#000', small),
  label(1883, 907, dmiMin.toFixed(4), '#000', small),
  label(1879, 908, '0.00', '#000', small),
  label(1858, 12, 'eClock', '#000', '11px ' + FONT, 'right'),
  label(1867, 12, '\u2716', '#000', 'bold 9px "DejaVu Sans"', 'center'),
  label(1695, 25.5, 'EURUSD', green, 'bold 13px ' + FONT),
  label(1847, 26, '1.297', green, 'bold 16px ' + FONT, 'right'),
  label(1866, 26, '86', '#808080', 'bold 16px ' + FONT, 'right'),
  rule(1694, 1866, 35),
  rule(1694, 1866, 94),
  rule(1694, 1866, 122),
  {type: 'rect', silent: true, z: 100, shape: {x: 1877, y: Math.round(py) - 6, width: 37, height: 12}, style: {fill: '#000'}},
  label(1880, Math.round(py), lastClose.toFixed(5), '#fff', small)
];
infoRows.forEach(function (r) {
  g.push(label(1811, r[3], r[0], '#8c8c8c', rowFont, 'right'));
  g.push(label(1866, r[3], r[1], r[2], valFont, 'right'));
});
chart.setOption({graphic: g});
</script>
</body>
</html>
